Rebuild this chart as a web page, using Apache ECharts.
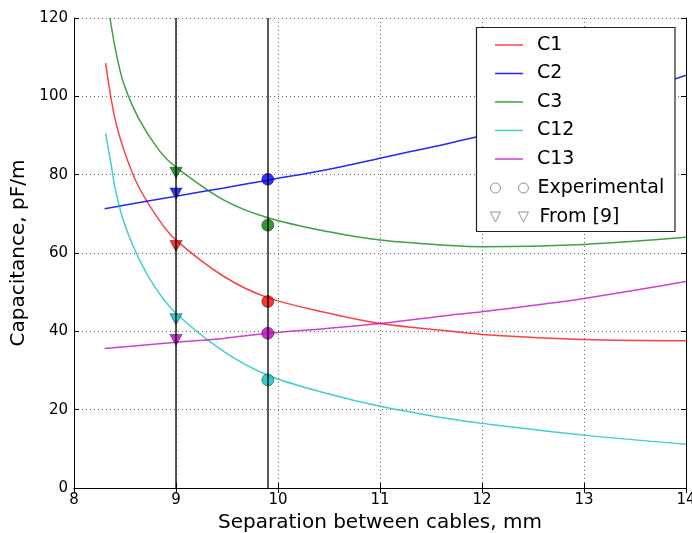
<!DOCTYPE html>
<html>
<head>
<meta charset="utf-8">
<script src="https://cdn.jsdelivr.net/npm/echarts@6/dist/echarts.min.js"></script>
<style>
	html, body { margin: 0; padding: 0; background: #fff; }
	#chart { width: 692px; height: 533px; }
</style>
</head>
<body>
<div id="chart"></div>
<script>
// curves
const c1X = [8.31, 8.40, 8.50, 8.63, 8.83, 9.00, 9.47, 9.90, 10.5, 11.0, 11.7, 12.0, 13.0, 14.0];
const c1Y = [108.5, 94.5, 85.5, 77.1, 68.6, 63.3, 54.0, 48.6, 44.6, 42.0, 40.0, 39.2, 37.9, 37.6];
const c2X = [8.30, 9.00, 9.47, 9.90, 10.5, 11.0, 11.95, 13.0, 14.0];
const c2Y = [71.3, 74.5, 76.6, 78.6, 81.4, 84.2, 89.7, 97.0, 105.4];
const c3X = [8.353, 8.41, 8.49, 8.63, 8.84, 9.00, 9.47, 9.90, 10.5, 11.0, 11.7, 12.0, 13.0, 14.0];
const c3Y = [120.0, 111.5, 103.0, 94.5, 86.0, 81.9, 73.5, 69.0, 65.4, 63.3, 61.9, 61.6, 62.2, 64.0];
const c12X = [8.31, 8.37, 8.40, 8.48, 8.61, 8.79, 9.00, 9.47, 9.90, 10.5, 11.0, 11.7, 12.0, 13.0, 14.0];
const c12Y = [90.5, 81.7, 76.9, 68.6, 60.0, 51.4, 44.6, 34.8, 28.8, 24.0, 20.9, 17.6, 16.5, 13.5, 11.2];
const c13X = [8.30, 9.00, 9.47, 9.90, 10.5, 11.0, 11.7, 12.0, 13.0, 14.0];
const c13Y = [35.6, 37.2, 38.2, 39.5, 40.8, 42.0, 44.2, 45.0, 48.4, 52.7];

// point values, order C1, C2, C3, C12, C13
const expX = 9.9;
const expY = [47.6, 78.8, 67.1, 27.6, 39.5];
const refX = 9.0;
const refY = [61.8, 75.2, 80.5, 43.1, 37.8];

const vLinesX = [9.0, 9.9];
const curveNames = ["C1", "C2", "C3", "C12", "C13"];

const font = "DejaVu Sans";
const lineColors = ["rgba(255,0,0,0.75)", "rgba(0,0,255,0.85)", "rgba(0,128,0,0.75)", "rgba(0,191,191,0.75)", "rgba(191,0,191,0.75)"];
const markColors = ["#ff0000", "#0000ff", "#008000", "#00bfbf", "#bf00bf"];

const pairs = (xs, ys) => xs.map((x, i) => [x, ys[i]]);
const curves = [pairs(c1X, c1Y), pairs(c2X, c2Y), pairs(c3X, c3Y), pairs(c12X, c12Y), pairs(c13X, c13Y)];

const chart = echarts.init(document.getElementById("chart"));

const lineSeries = curves.map((d, i) => ({
	name: curveNames[i],
	type: "line",
	smooth: 0.35,
	symbol: "none",
	z: 3,
	lineStyle: { color: lineColors[i], width: 1.5 },
	itemStyle: { color: lineColors[i] },
	data: d
}));

const markerEdge = { borderColor: "rgba(0,0,0,0.5)", borderWidth: 1 };
// a plain short stroke for the curve entries of the legend
const lineIcon = "path://M0,5.25h28v1.5h-28z M0,0h0.01v0.01z M28,12h0.01v0.01z";

chart.setOption({
	animation: false,
	textStyle: { fontFamily: font },
	grid: { left: 74, top: 18, width: 612, height: 470, outerBoundsMode: "none" },
	xAxis: [
		{
			type: "value",
			min: 8, max: 14, interval: 1,
			name: "Separation between cables, mm",
			nameLocation: "middle",
			nameGap: 23,
			nameTextStyle: { fontSize: 20, color: "#000", fontFamily: font },
			axisLine: { show: true, lineStyle: { color: "#000", width: 1 } },
			axisTick: { show: true, inside: true, length: 5, lineStyle: { color: "#000" } },
			axisLabel: { fontSize: 15, color: "#000", margin: 5, fontFamily: font },
			splitLine: { show: true, lineStyle: { color: "#666", type: [1, 3], width: 1 } }
		},
		{
			type: "value",
			position: "top",
			min: 8, max: 14, interval: 1,
			axisLine: { show: true, lineStyle: { color: "#000", width: 1 } },
			axisTick: { show: true, inside: true, length: 5, lineStyle: { color: "#000" } },
			axisLabel: { show: false },
			splitLine: { show: false }
		}
	],
	yAxis: [
		{
			type: "value",
			min: 0, max: 120, interval: 20,
			name: "Capacitance, pF/m",
			nameLocation: "middle",
			nameGap: 38,
			nameTextStyle: { fontSize: 20, color: "#000", fontFamily: font },
			axisLine: { show: true, lineStyle: { color: "#000", width: 1 } },
			axisTick: { show: true, inside: true, length: 5, lineStyle: { color: "#000" } },
			axisLabel: { fontSize: 15, color: "#000", margin: 6, fontFamily: font },
			splitLine: { show: true, lineStyle: { color: "#666", type: [1, 3], width: 1 } }
		},
		{
			type: "value",
			position: "right",
			min: 0, max: 120, interval: 20,
			axisLine: { show: true, lineStyle: { color: "#000", width: 1 } },
			axisTick: { show: true, inside: true, length: 5, lineStyle: { color: "#000" } },
			axisLabel: { show: false },
			splitLine: { show: false }
		}
	],
	graphic: [
		{
			type: "rect",
			z: 10,
			shape: { x: 476.5, y: 27.5, width: 198.5, height: 204 },
			style: { fill: "#fff", stroke: "#222", lineWidth: 1.2 }
		}
	],
	legend: [
		{
			z: 20,
			left: 490,
			top: 30,
			orient: "vertical",
			itemWidth: 28,
			itemHeight: 12,
			itemGap: 8.5,
			textStyle: { fontSize: 19, color: "#000", fontFamily: font, lineHeight: 20, padding: [0, 0, 0, 9] },
			data: curveNames.map((n, i) => ({ name: n, icon: lineIcon, itemStyle: { color: lineColors[i], borderWidth: 0 } }))
		},
		{
			z: 20,
			left: 484,
			top: 173,
			orient: "vertical",
			itemWidth: 40,
			itemHeight: 12,
			itemGap: 9,
			textStyle: { fontSize: 19, color: "#000", fontFamily: font, lineHeight: 20, padding: [0, 0, 0, 3] },
			data: [
				{
					name: "Experimental",
					icon: "path://M1,6a5,5 0 1,0 10,0a5,5 0 1,0 -10,0zM29,6a5,5 0 1,0 10,0a5,5 0 1,0 -10,0z M0,0h0.01v0.01z M40,12h0.01v0.01z",
					itemStyle: { color: "rgba(0,0,0,0)", borderColor: "#777", borderWidth: 1 }
				},
				{
					name: "From [9]",
					icon: "path://M1,1h10l-5,10z M29,1h10l-5,10z M0,0h0.01v0.01z M40,12h0.01v0.01z",
					itemStyle: { color: "rgba(0,0,0,0)", borderColor: "#777", borderWidth: 1 },
					textStyle: { padding: [0, 0, 0, 5] }
				}
			]
		}
	],
	series: [
		{
			type: "line",
			data: [],
			z: 2,
			markLine: {
				silent: true,
				symbol: "none",
				label: { show: false },
				lineStyle: { color: "rgba(0,0,0,0.65)", width: 2, type: "solid" },
				data: vLinesX.map(x => ({ xAxis: x }))
			}
		},
		...lineSeries,
		{
			name: "From [9]",
			type: "scatter",
			z: 4,
			symbol: "triangle",
			symbolRotate: 180,
			symbolSize: [12, 11],
			data: refY.map((y, i) => ({ value: [refX, y], itemStyle: { color: markColors[i], ...markerEdge } }))
		},
		{
			name: "Experimental",
			type: "scatter",
			z: 4,
			symbol: "circle",
			symbolSize: 12,
			data: expY.map((y, i) => ({ value: [expX, y], itemStyle: { color: markColors[i], ...markerEdge } }))
		}
	]
});
</script>
</body>
</html>
